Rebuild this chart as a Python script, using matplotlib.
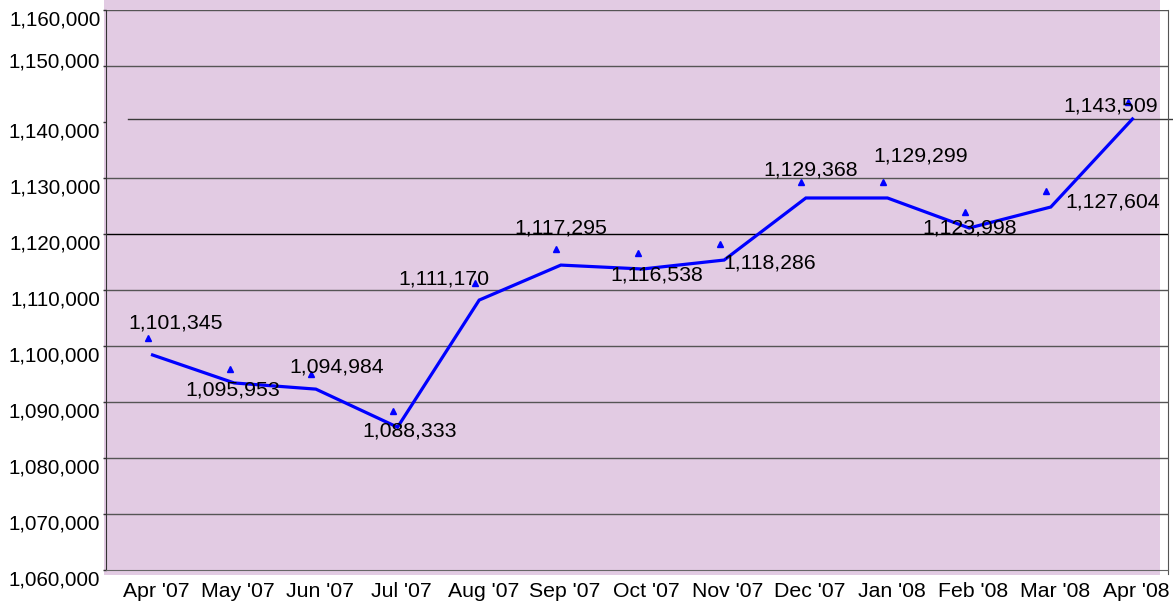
import numpy as np
import matplotlib as mpl
mpl.use('Agg')
from matplotlib import pyplot as plt
from matplotlib.patches import Rectangle
from matplotlib.transforms import ScaledTranslation
from matplotlib.ticker import FuncFormatter

plt.rcParams['font.family'] = ['Liberation Sans', 'DejaVu Sans']

# ---------- data ----------
months = ["Apr '07", "May '07", "Jun '07", "Jul '07", "Aug '07", "Sep '07", "Oct '07",
          "Nov '07", "Dec '07", "Jan '08", "Feb '08", "Mar '08", "Apr '08"]
values = [1101345, 1095953, 1094984, 1088333, 1111170, 1117295, 1116538,
          1118286, 1129368, 1129299, 1123998, 1127604, 1143509]
# the line in the picture does not run through the markers: its own vertices
line_values = [1098400, 1093400, 1092300, 1085500, 1108200, 1114450, 1113750,
               1115350, 1126430, 1126430, 1121070, 1124820, 1140540]
y_ticks = [1060000, 1070000, 1080000, 1090000, 1100000, 1110000,
           1120000, 1130000, 1140000, 1150000, 1160000]

# label offsets in pixels (dx, dy), dy positive = up
label_offsets = [(28, 15), (3, -21), (25, 7), (17, -20), (-31, 4), (4, 21), (19, -22),
                 (50, -19), (9, 12), (38, 26), (5, -16), (66, -11), (-17, -4)]

W, H = 1173, 608
fig = plt.figure(figsize=(W / 100.0, H / 100.0), dpi=100)
fig.patch.set_facecolor('white')

# purple plot background (slightly larger than the axes, as in the original)
fig.patches.append(Rectangle((104.0 / W, 1 - 575.0 / H), (1160.0 - 104) / W, 575.0 / H,
                             transform=fig.transFigure, facecolor='#e2cbe3',
                             edgecolor='none', zorder=-5))

left, right, top, bottom = 106.0, 1168.0, 10.0, 570.0
ax = fig.add_axes([left / W, 1 - bottom / H, (right - left) / W, (bottom - top) / H])
ax.set_facecolor('none')

x = np.arange(len(months))
ax.set_xlim(-0.515, 12.49)
ax.set_ylim(1060000, 1160000)

# grid lines
for yv in y_ticks[1:]:
    if yv == 1140000:
        ax.axhline(yv + 500, xmin=0.0207, xmax=1.0057, color='#3a3a3a', lw=1.0,
                   clip_on=False, zorder=1)
    elif yv == 1120000:
        ax.axhline(yv, color='black', lw=1.0, zorder=1)
    else:
        ax.axhline(yv, color='#555555', lw=1.0, zorder=1)

ax.plot(x + 0.055, line_values, color='#0000ff', lw=2.3, zorder=3, solid_joinstyle='miter')
ax.plot(x, values, linestyle='none', marker='^', markersize=4.5, color='#0000ff', zorder=4)

for xi, v, (dx, dy) in zip(x, values, label_offsets):
    ax.annotate('{:,}'.format(v), (xi, v), xytext=(dx * 0.72, dy * 0.72),
                textcoords='offset points', ha='center', va='center',
                fontsize=15.3, color='black', zorder=5)

# axes frame
ax.spines['top'].set_visible(False)
ax.spines['left'].set_color('#333333')
ax.spines['bottom'].set_color('#666666')
ax.spines['right'].set_color('#555555')
ax.spines['right'].set_bounds(1059200, 1160000)

ax.set_yticks(y_ticks)
ax.yaxis.set_major_formatter(FuncFormatter(lambda v, p: '{:,}'.format(int(v))))
ax.tick_params(axis='y', direction='out', length=2, width=1, pad=2,
               labelsize=14.8, colors='#333333', labelcolor='black')
ax.set_xticks(x)
ax.set_xticklabels(months)
ax.tick_params(axis='x', length=0, pad=8.5, labelsize=15.3, labelcolor='black')

# the tick labels in the original sit a little off their ticks
for lab, yv in zip(ax.get_yticklabels(), y_ticks):
    dy = 6 if yv == 1150000 else -8
    lab.set_transform(lab.get_transform() + ScaledTranslation(0, dy / 100.0, fig.dpi_scale_trans))
for lab in ax.get_xticklabels():
    lab.set_transform(lab.get_transform() + ScaledTranslation(8.5 / 100.0, 0, fig.dpi_scale_trans))

plt.savefig('out.png', dpi=100)
